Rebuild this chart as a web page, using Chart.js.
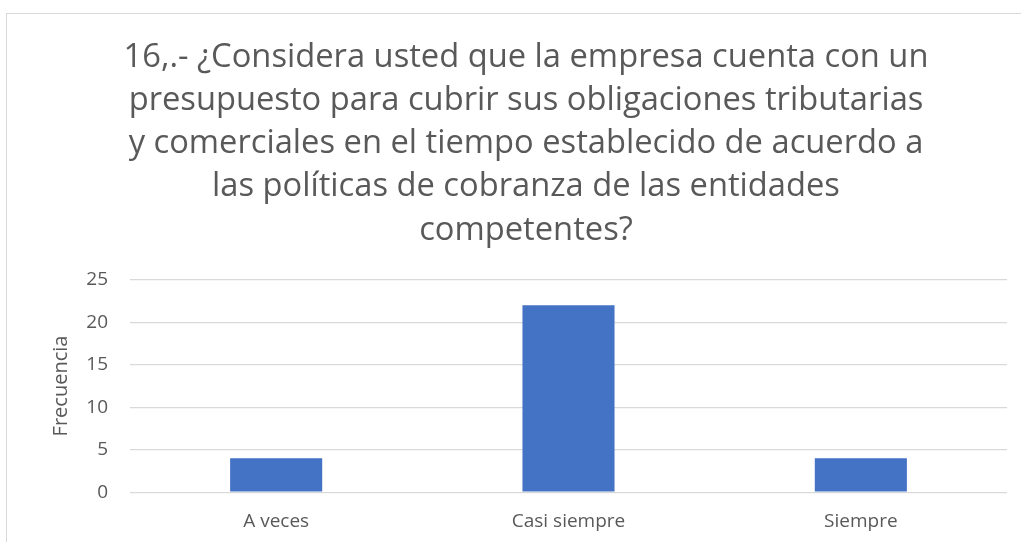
<!DOCTYPE html>
<html>
<head>
<meta charset="utf-8">
<script src="https://cdn.jsdelivr.net/npm/chart.js@4/dist/chart.umd.min.js"></script>
<style>
  html, body { margin: 0; padding: 0; background: #fff; overflow: hidden; }
  #frame {
    position: absolute; left: 6px; top: 13px;
    width: 1030px; height: 540px;
    border: 1px solid #d9d9d9; box-sizing: border-box;
  }
  #wrap { position: absolute; left: 0; top: 0; width: 1015px; height: 529px; }
</style>
</head>
<body>
<div id="frame"><div id="wrap"><canvas id="chart"></canvas></div></div>
<script>
const categories = ['A veces', 'Casi siempre', 'Siempre'];
const frecuencia = [4, 22, 4];
const yTicks = [0, 5, 10, 15, 20, 25];
const titleLines = [
  '16,.- ¿Considera usted que la empresa cuenta con un',
  'presupuesto para cubrir sus obligaciones tributarias',
  'y comerciales en el tiempo establecido de acuerdo a',
  'las políticas de cobranza de las entidades',
  'competentes?'
];

const textColor = '#595959';
const fontFamily = "'Open Sans', 'Liberation Sans', sans-serif";

new Chart(document.getElementById('chart'), {
  type: 'bar',
  data: {
    labels: categories,
    datasets: [{
      data: frecuencia,
      backgroundColor: '#4472c4',
      borderWidth: 0,
      barPercentage: 0.63,
      categoryPercentage: 0.5
    }]
  },
  options: {
    responsive: true,
    maintainAspectRatio: false,
    animation: false,
    layout: { padding: { left: 38, right: 15, top: 14, bottom: 0 } },
    plugins: {
      legend: { display: false },
      tooltip: { enabled: false },
      title: {
        display: true,
        text: titleLines,
        color: textColor,
        font: { family: fontFamily, size: 32.7, weight: 'normal', lineHeight: 1.32 },
        padding: { top: 8, bottom: 28 }
      }
    },
    scales: {
      x: {
        grid: { display: false },
        border: { display: false },
        ticks: { color: textColor, font: { family: fontFamily, size: 19 }, padding: 10 }
      },
      y: {
        min: yTicks[0],
        max: yTicks[yTicks.length - 1],
        afterBuildTicks: axis => { axis.ticks = yTicks.map(v => ({ value: v })); },
        afterFit: axis => { axis.width = 85; },
        ticks: { color: textColor, font: { family: fontFamily, size: 19 }, padding: 22 },
        grid: { color: '#d9d9d9', lineWidth: 1.3, drawTicks: false },
        border: { display: false },
        title: {
          display: true,
          text: 'Frecuencia',
          color: textColor,
          font: { family: fontFamily, size: 20 },
          padding: { bottom: 4 }
        }
      }
    }
  }
});
</script>
</body>
</html>
